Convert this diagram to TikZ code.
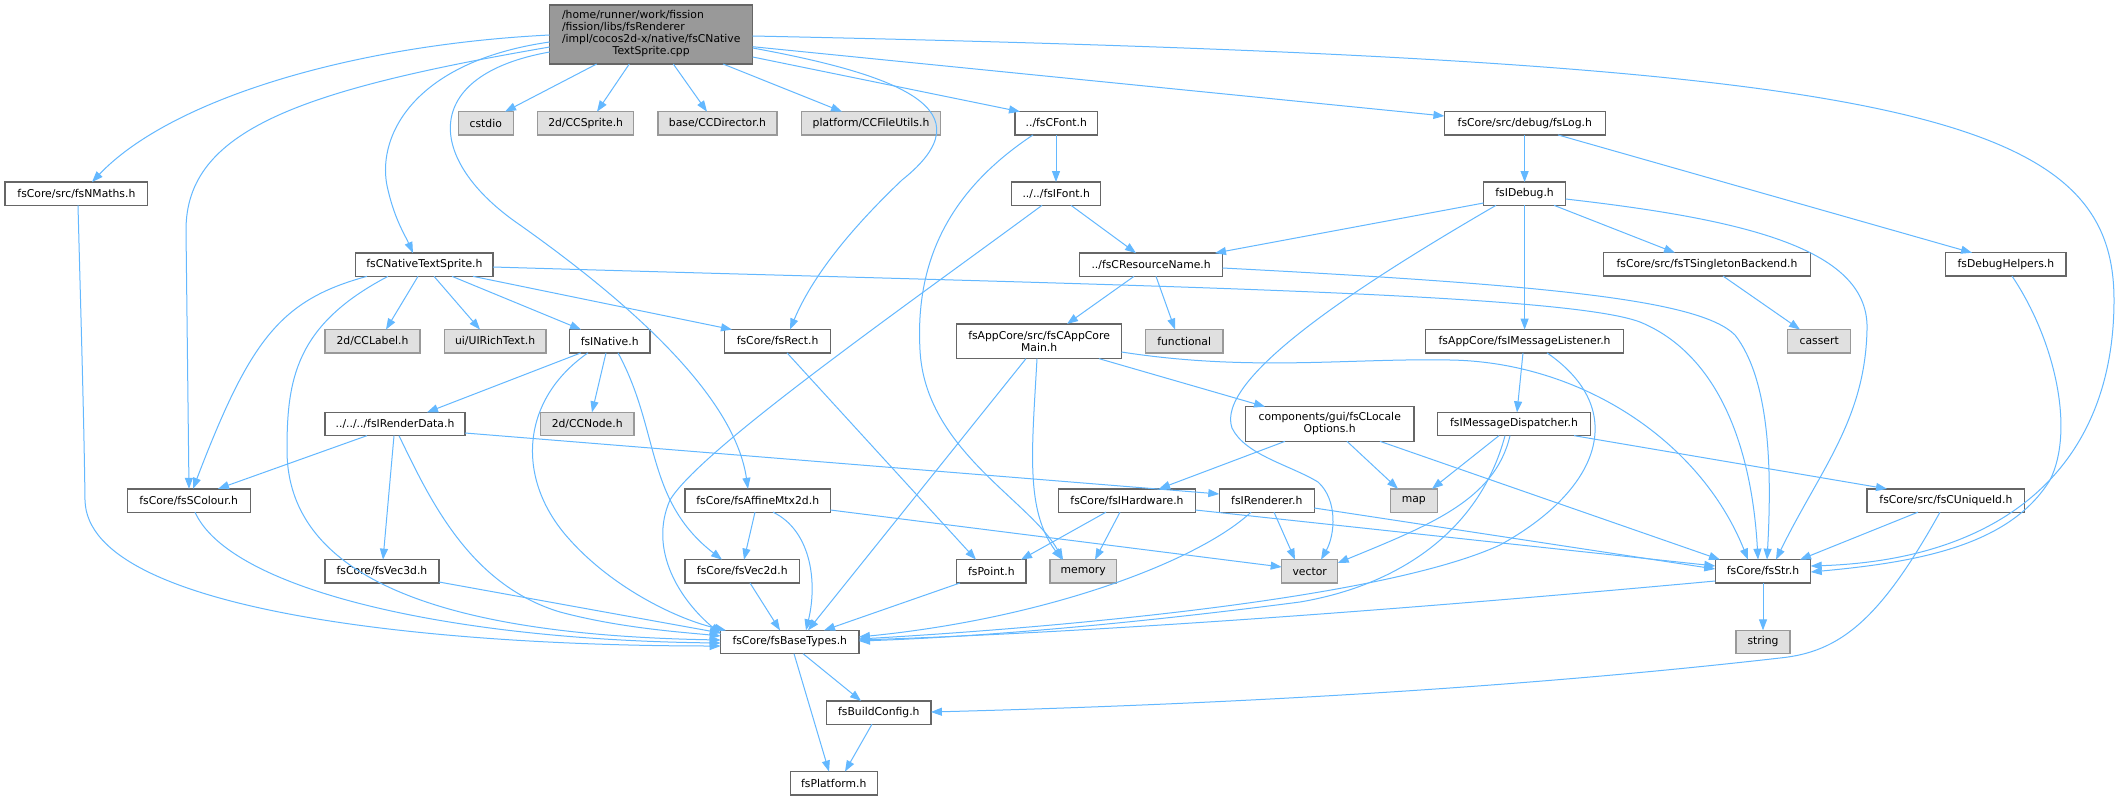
\documentclass[tikz,border=0pt]{standalone}
\usepackage{fontspec}
\setmainfont{DejaVu Sans}
\usetikzlibrary{arrows.meta,calc}
\definecolor{edgec}{HTML}{63B8FF}
\definecolor{nodeb}{HTML}{666666}
\definecolor{extb}{HTML}{999999}
\definecolor{extf}{HTML}{E0E0E0}
\definecolor{rootf}{HTML}{999999}
\tikzset{
  basebox/.style={rectangle, inner sep=0pt, outer sep=0pt, line width=1.3pt, minimum height=23.3pt, font=\fontsize{10.8}{12}\selectfont, text=black},
  wbox/.style={basebox, draw=nodeb, fill=white},
  gbox/.style={basebox, draw=extb, fill=extf},
  rootbox/.style={basebox, draw=nodeb, fill=rootf},
  dep/.style={draw=edgec, line width=1pt, -{Triangle[length=11pt,width=8pt]}}
}
\begin{document}
\begin{tikzpicture}[x=1pt,y=-1pt]
\useasboundingbox[fill=white] (0,0) rectangle (2118,800);
% nodes
\node[rootbox, minimum width=203pt, minimum height=59pt] (root) at (651.2,34.5) {\begin{tabular}{@{}l@{}}/home/runner/work/fission\\/fission/libs/fsRenderer\\/impl/cocos2d-x/native/fsCNative\\\multicolumn{1}{@{}c@{}}{TextSprite.cpp}\end{tabular}};
\node[gbox, minimum width=55pt] (cstdio) at (485.8,123.3) {cstdio};
\node[gbox, minimum width=96pt] (ccsprite) at (585.7,123.3) {2d/CCSprite.h};
\node[gbox, minimum width=119pt] (ccdirector) at (717.5,123.3) {base/CCDirector.h};
\node[gbox, minimum width=139pt] (ccfileutils) at (871,123.3) {platform/CCFileUtils.h};
\node[wbox, minimum width=82.6pt] (fscfont) at (1056.3,123.3) {../fsCFont.h};
\node[wbox, minimum width=160.7pt] (fslog) at (1524.8,123.3) {fsCore/src/debug/fsLog.h};
\node[wbox, minimum width=142.8pt] (fsnmaths) at (76.4,193.7) {fsCore/src/fsNMaths.h};
\node[wbox, minimum width=89pt] (fsifont) at (1056.2,193.7) {../../fsIFont.h};
\node[wbox, minimum width=82pt] (fsidebug) at (1524.6,193.7) {fsIDebug.h};
\node[wbox, minimum width=137.3pt] (fscnts) at (424.4,264.7) {fsCNativeTextSprite.h};
\node[wbox, minimum width=142.8pt] (fscresourcename) at (1151.1,264.7) {../fsCResourceName.h};
\node[wbox, minimum width=207.4pt] (fstsingleton) at (1707,264.4) {fsCore/src/fsTSingletonBackend.h};
\node[wbox, minimum width=120.3pt] (fsdebughelpers) at (2005.9,264.4) {fsDebugHelpers.h};
\node[gbox, minimum width=95pt] (cclabel) at (372.5,341.2) {2d/CCLabel.h};
\node[gbox, minimum width=101.5pt] (uirichtext) at (495.1,341.2) {ui/UIRichText.h};
\node[wbox, minimum width=80.8pt] (fsinative) at (609.7,341.2) {fsINative.h};
\node[wbox, minimum width=105.6pt] (fsrect) at (777.6,341.2) {fsCore/fsRect.h};
\node[wbox, minimum width=164.8pt, minimum height=34.7pt, align=center] (fscappcoremain) at (1039.1,341.3) {fsAppCore/src/fsCAppCore\\Main.h};
\node[gbox, minimum width=77.6pt] (functional) at (1184.2,341.2) {functional};
\node[wbox, minimum width=197.9pt] (fsimessagelistener) at (1524.6,341.2) {fsAppCore/fsIMessageListener.h};
\node[gbox, minimum width=63pt] (cassert) at (1819.2,341.2) {cassert};
\node[wbox, minimum width=140pt] (fsirenderdata) at (395,424) {../../../fsIRenderData.h};
\node[gbox, minimum width=93.7pt] (ccnode) at (587.2,424) {2d/CCNode.h};
\node[wbox, minimum width=168.6pt, minimum height=34.7pt, align=center] (fsclocaleoptions) at (1329.7,424) {components/gui/fsCLocale\\Options.h};
\node[wbox, minimum width=153pt] (fsimessagedispatcher) at (1514,424) {fsIMessageDispatcher.h};
\node[wbox, minimum width=123pt] (fsscolour) at (188.7,500.5) {fsCore/fsSColour.h};
\node[wbox, minimum width=145.4pt] (fsaffine) at (757.7,500.5) {fsCore/fsAffineMtx2d.h};
\node[wbox, minimum width=136.8pt] (fsihardware) at (1127,500.5) {fsCore/fsIHardware.h};
\node[wbox, minimum width=95pt] (fsirenderer) at (1266.8,500.5) {fsIRenderer.h};
\node[gbox, minimum width=46.7pt] (map) at (1413.8,500.5) {map};
\node[wbox, minimum width=157.7pt] (fscuniqueid) at (1945.9,500.5) {fsCore/src/fsCUniqueId.h};
\node[wbox, minimum width=114pt] (fsvec3d) at (382,571.3) {fsCore/fsVec3d.h};
\node[wbox, minimum width=114.6pt] (fsvec2d) at (742.3,571.3) {fsCore/fsVec2d.h};
\node[wbox, minimum width=69.3pt] (fspoint) at (991.4,571.3) {fsPoint.h};
\node[gbox, minimum width=66.5pt] (memory) at (1083.2,571.3) {memory};
\node[gbox, minimum width=56pt] (vector) at (1309.7,571.3) {vector};
\node[wbox, minimum width=95.4pt] (fsstr) at (1763,571.3) {fsCore/fsStr.h};
\node[wbox, minimum width=138.2pt] (fsbasetypes) at (789.8,642) {fsCore/fsBaseTypes.h};
\node[gbox, minimum width=54pt] (string) at (1763,642) {string};
\node[wbox, minimum width=104.2pt] (fsbuildconfig) at (878.8,712.5) {fsBuildConfig.h};
\node[wbox, minimum width=86.8pt] (fsplatform) at (833.8,783.2) {fsPlatform.h};
% root edges
\draw[dep] (root.south -| 596.7,0) -- (cstdio.north -| 505,0);
\draw[dep] (root.south -| 629.3,0) -- (ccsprite.north -| 597,0);
\draw[dep] (root.south -| 673.3,0) -- (ccdirector.north -| 707,0);
\draw[dep] (root.south -| 723,0) -- (ccfileutils.north -| 842,0);
\draw[dep] (root.east |- 0,57) -- (fscfont.north -| 1020,0);
\draw[dep] (root.east |- 0,46.7) -- (fslog.west |- 0,116);
\draw[dep] (root.east |- 0,36) .. controls (1900,60) and (2114,110) .. (2114,300) .. controls (2114,470) and (2000,560) .. (fsstr.east |- 0,566);
\draw[dep] (root.west |- 0,35) .. controls (350,45) and (170,100) .. (fsnmaths.north -| 92,0);
\draw[dep] (root.west |- 0,47) .. controls (300,90) and (186,130) .. (186,230) -- (fsscolour.north -| 189,0);
\draw[dep] (root.west |- 0,42) .. controls (410,62) and (375,140) .. (388,190) .. controls (395,220) and (405,235) .. (fscnts.north -| 413,0);
\draw[dep] (root.west |- 0,52) .. controls (420,75) and (425,160) .. (520,225) .. controls (640,310) and (735,400) .. (fsaffine.north -| 748,0);
\draw[dep] (root.east |- 0,48) .. controls (900,75) and (990,110) .. (902,180) .. controls (860,220) and (815,270) .. (fsrect.north -| 790,0);
% fsCNativeTextSprite.h
\draw[dep] (fscnts.south -| 367,0) .. controls (280,300) and (250,340) .. (fsscolour.north -| 193,0);
\draw[dep] (fscnts.south -| 388,0) .. controls (295,325) and (287,380) .. (287,450) .. controls (287,600) and (500,636) .. (fsbasetypes.west |- 0,640);
\draw[dep] (fscnts.south -| 418,0) -- (cclabel.north -| 386,0);
\draw[dep] (fscnts.south -| 434,0) -- (uirichtext.north -| 480,0);
\draw[dep] (fscnts.south -| 452,0) -- (fsinative.north -| 581,0);
\draw[dep] (fscnts.south -| 473,0) -- (fsrect.north -| 732,0);
\draw[dep] (fscnts.east |- 0,267) .. controls (1100,285) and (1560,292) .. (1640,322) .. controls (1720,355) and (1752,450) .. (fsstr.north -| 1758,0);
% fsINative.h
\draw[dep] (fsinative.south -| 581,0) -- (fsirenderdata.north -| 427,0);
\draw[dep] (fsinative.south -| 606,0) -- (ccnode.north -| 592,0);
\draw[dep] (fsinative.south -| 588,0) .. controls (520,400) and (515,480) .. (570,540) .. controls (615,590) and (680,620) .. (fsbasetypes.north -| 726,0);
\draw[dep] (fsinative.south -| 618,0) .. controls (660,430) and (645,500) .. (fsvec2d.north -| 722,0);
% fsIRenderData.h
\draw[dep] (fsirenderdata.south -| 367,0) -- (fsscolour.north -| 218,0);
\draw[dep] (fsirenderdata.south -| 394,0) -- (fsvec3d.north -| 383,0);
\draw[dep] (fsirenderdata.south -| 399,0) .. controls (430,500) and (470,585) .. (560,612) .. controls (620,628) and (680,632) .. (fsbasetypes.west |- 0,636);
\draw[dep] (fsirenderdata.east |- 0,433) -- (fsirenderer.west |- 0,494);
% others to fsBaseTypes
\draw[dep] (fsscolour.south -| 195,0) .. controls (230,590) and (450,640) .. (fsbasetypes.west |- 0,643);
\draw[dep] (fsnmaths.south -| 78,0) .. controls (81,320) and (84,420) .. (85,500) .. controls (87,615) and (450,646) .. (fsbasetypes.west |- 0,646);
\draw[dep] (fsvec3d.east |- 0,582) -- (fsbasetypes.west |- 0,633);
\draw[dep] (fsaffine.south -| 755,0) -- (fsvec2d.north -| 744,0);
\draw[dep] (fsaffine.south -| 773,0) .. controls (810,530) and (818,580) .. (fsbasetypes.north -| 806,0);
\draw[dep] (fsaffine.east |- 0,510) -- (vector.west |- 0,567);
\draw[dep] (fsvec2d.south -| 750,0) -- (fsbasetypes.north -| 780,0);
\draw[dep] (fspoint.south -| 960,0) -- (fsbasetypes.north -| 824,0);
\draw[dep] (fsrect.south -| 787,0) -- (fspoint.north -| 976,0);
% fsCFont / fsIFont
\draw[dep] (fscfont.south -| 1056,0) -- (fsifont.north -| 1056,0);
\draw[dep] (fscfont.south -| 1033,0) .. controls (950,190) and (915,260) .. (920,350) .. controls (925,450) and (1030,500) .. (memory.north -| 1063,0);
\draw[dep] (fsifont.south -| 1071,0) -- (fscresourcename.north -| 1136,0);
\draw[dep] (fsifont.south -| 1042,0) .. controls (900,310) and (700,450) .. (670,500) .. controls (648,550) and (680,600) .. (fsbasetypes.west |- 0,634);
% fsCResourceName
\draw[dep] (fscresourcename.south -| 1134,0) -- (fscappcoremain.north -| 1067,0);
\draw[dep] (fscresourcename.south -| 1156,0) -- (functional.north -| 1175,0);
\draw[dep] (fscresourcename.east |- 0,268) .. controls (1550,285) and (1700,300) .. (1735,335) .. controls (1770,380) and (1772,470) .. (fsstr.north -| 1767,0);
% fsCAppCoreMain
\draw[dep] (fscappcoremain.south -| 1026,0) -- (fsbasetypes.north -| 808,0);
\draw[dep] (fscappcoremain.south -| 1037,0) .. controls (1032,450) and (1025,510) .. (memory.north -| 1062,0);
\draw[dep] (fscappcoremain.south -| 1099,0) -- (fsclocaleoptions.north -| 1265,0);
\draw[dep] (fscappcoremain.east |- 0,352) .. controls (1250,372) and (1350,358) .. (1450,360) .. controls (1580,362) and (1700,440) .. (fsstr.north -| 1748,0);
% fsCLocaleOptions
\draw[dep] (fsclocaleoptions.south -| 1285,0) -- (fsihardware.north -| 1159,0);
\draw[dep] (fsclocaleoptions.south -| 1347,0) -- (map.north -| 1398,0);
\draw[dep] (fsclocaleoptions.south -| 1380,0) -- (fsstr.north -| 1720,0);
% fsIHardware
\draw[dep] (fsihardware.south -| 1106,0) -- (fspoint.north -| 1021,0);
\draw[dep] (fsihardware.south -| 1120,0) -- (memory.north -| 1095,0);
\draw[dep] (fsihardware.east |- 0,510) -- (fsstr.west |- 0,566);
% fsIRenderer
\draw[dep] (fsirenderer.south -| 1251,0) .. controls (1200,560) and (1050,618) .. (fsbasetypes.east |- 0,637);
\draw[dep] (fsirenderer.south -| 1274,0) -- (vector.north -| 1295,0);
\draw[dep] (fsirenderer.east |- 0,508) -- (fsstr.west |- 0,569);
% fsLog / fsIDebug
\draw[dep] (fslog.south -| 1524.6,0) -- (fsidebug.north -| 1524.6,0);
\draw[dep] (fslog.south -| 1558,0) -- (fsdebughelpers.north -| 1972,0);
\draw[dep] (fsidebug.west |- 0,203) -- (fscresourcename.north -| 1215,0);
\draw[dep] (fsidebug.south -| 1524.6,0) -- (fsimessagelistener.north -| 1524.6,0);
\draw[dep] (fsidebug.south -| 1554,0) -- (fstsingleton.north -| 1675,0);
\draw[dep] (fsidebug.south -| 1496,0) .. controls (1350,290) and (1215,380) .. (1232,428) .. controls (1245,455) and (1290,465) .. (1318,482) .. controls (1338,500) and (1335,535) .. (vector.north -| 1321,0);
\draw[dep] (fsidebug.east |- 0,199) .. controls (1750,220) and (1870,250) .. (1867,330) .. controls (1865,420) and (1820,470) .. (fsstr.north -| 1776,0);
\draw[dep] (fstsingleton.south -| 1723,0) -- (cassert.north -| 1800,0);
\draw[dep] (fsdebughelpers.south -| 2012,0) .. controls (2055,340) and (2075,430) .. (2050,480) .. controls (2010,545) and (1920,562) .. (fsstr.east |- 0,572);
% message listener / dispatcher
\draw[dep] (fsimessagelistener.south -| 1523,0) -- (fsimessagedispatcher.north -| 1517,0);
\draw[dep] (fsimessagelistener.south -| 1547,0) .. controls (1630,410) and (1600,490) .. (1500,545) .. controls (1380,600) and (1050,628) .. (fsbasetypes.east |- 0,639);
\draw[dep] (fsimessagedispatcher.south -| 1499,0) -- (map.north -| 1432,0);
\draw[dep] (fsimessagedispatcher.south -| 1510,0) .. controls (1495,500) and (1430,525) .. (vector.east |- 0,563);
\draw[dep] (fsimessagedispatcher.south -| 1505,0) .. controls (1480,530) and (1400,585) .. (1300,602) .. controls (1100,628) and (950,638) .. (fsbasetypes.east |- 0,641);
\draw[dep] (fsimessagedispatcher.south -| 1574,0) -- (fscuniqueid.north -| 1887,0);
% fsCUniqueId
\draw[dep] (fscuniqueid.south -| 1918,0) -- (fsstr.north -| 1800,0);
\draw[dep] (fscuniqueid.south -| 1940,0) .. controls (1880,620) and (1840,652) .. (1780,658) .. controls (1500,690) and (1200,705) .. (fsbuildconfig.east |- 0,712);
% fsStr
\draw[dep] (fsstr.south -| 1763,0) -- (string.north -| 1763,0);
\draw[dep] (fsstr.west |- 0,581) .. controls (1400,610) and (1100,632) .. (fsbasetypes.east |- 0,640);
% fsBaseTypes
\draw[dep] (fsbasetypes.south -| 803,0) -- (fsbuildconfig.north -| 861,0);
\draw[dep] (fsbasetypes.south -| 794,0) -- (fsplatform.north -| 829,0);
\draw[dep] (fsbuildconfig.south -| 872,0) -- (fsplatform.north -| 845,0);
\end{tikzpicture}
\end{document}
